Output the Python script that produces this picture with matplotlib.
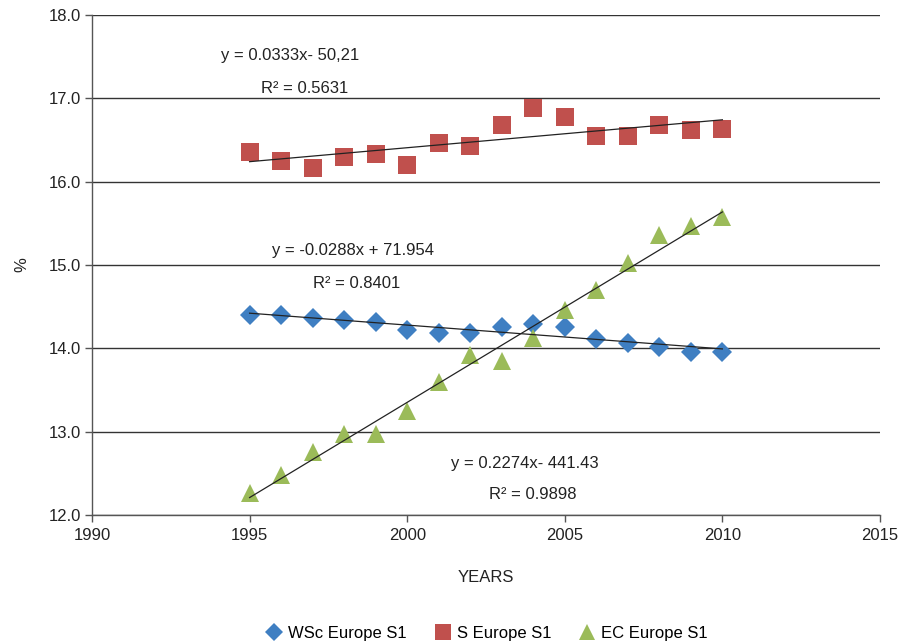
import numpy as np
import matplotlib
matplotlib.use("Agg")
import matplotlib.pyplot as plt

plt.rcParams['font.family'] = ['Liberation Sans', 'DejaVu Sans']

years = list(range(1995, 2011))
wsc = [14.40, 14.40, 14.36, 14.34, 14.32, 14.22, 14.18, 14.18, 14.26, 14.29, 14.26, 14.11, 14.06, 14.02, 13.96, 13.96]
s_eu = [16.36, 16.25, 16.16, 16.30, 16.33, 16.20, 16.46, 16.43, 16.68, 16.88, 16.78, 16.55, 16.55, 16.68, 16.62, 16.63]
ec = [12.26, 12.48, 12.76, 12.97, 12.97, 13.25, 13.60, 13.92, 13.85, 14.12, 14.46, 14.70, 15.02, 15.36, 15.47, 15.58]

labels = ["WSc Europe S1", "S Europe S1", "EC Europe S1"]
eq_texts = ["y = -0.0288x + 71.954", "y = 0.0333x- 50,21", "y = 0.2274x- 441.43"]
r2_texts = ["R² = 0.8401", "R² = 0.5631", "R² = 0.9898"]

colors = ["#3F7FC2", "#C0504D", "#9BBB59"]
markers = ["D", "s", "^"]
msizes = [10.5, 12.5, 12.5]

FS = 12

fig = plt.figure(figsize=(9.03, 6.44), dpi=100)
ax = fig.add_axes([0.1019, 0.2003, 0.8726, 0.7764])

x = np.array(years, dtype=float)
series = [wsc, s_eu, ec]
for ys, c, m, ms, lab in zip(series, colors, markers, msizes, labels):
    ax.plot(x, ys, linestyle='none', marker=m, color=c, markersize=ms,
            markeredgewidth=0, label=lab, zorder=3)
for ys in series:
    p = np.polyfit(x, ys, 1)
    xx = np.array([x[0], x[-1]])
    ax.plot(xx, np.polyval(p, xx), color='#222222', linewidth=0.9, zorder=4)

ax.set_xlim(1990, 2015)
ax.set_ylim(12.0, 18.0)
ax.set_xticks(np.arange(1990, 2016, 5))
ax.set_yticks(np.arange(12.0, 18.01, 1.0))
ax.set_yticklabels([f"{v:.1f}" for v in np.arange(12.0, 18.01, 1.0)])
ax.grid(axis='y', color='#333333', linewidth=1.0)
ax.set_axisbelow(True)
for sp in ['top', 'right']:
    ax.spines[sp].set_visible(False)
for sp in ['left', 'bottom']:
    ax.spines[sp].set_color('#555555')
    ax.spines[sp].set_linewidth(1.0)
ax.tick_params(axis='both', labelsize=FS, length=5, width=1, direction='out')
ax.tick_params(axis='x', pad=4, colors='#555555', labelcolor='#222222')
ax.tick_params(axis='y', pad=3, colors='#555555', labelcolor='#222222')

ax.set_xlabel("YEARS", fontsize=FS, labelpad=20, color='#222222')
ax.set_ylabel("%", fontsize=FS, labelpad=14, color='#222222')

eq_pos = [(1998.28, 15.17), (1996.28, 17.51), (2003.74, 12.62)]
r2_pos = [(1998.41, 14.78), (1996.76, 17.12), (2003.99, 12.25)]
for t, (px, py) in zip(eq_texts, eq_pos):
    ax.text(px, py, t, ha='center', va='center', fontsize=FS, color='#222222')
for t, (px, py) in zip(r2_texts, r2_pos):
    ax.text(px, py, t, ha='center', va='center', fontsize=FS, color='#222222')

fig.legend(loc='lower center', bbox_to_anchor=(0.537, -0.018), ncol=3, frameon=False,
           fontsize=FS, handletextpad=0.1, handlelength=1.5, columnspacing=1.4, markerscale=0.9)

fig.savefig("out.png", dpi=100)
